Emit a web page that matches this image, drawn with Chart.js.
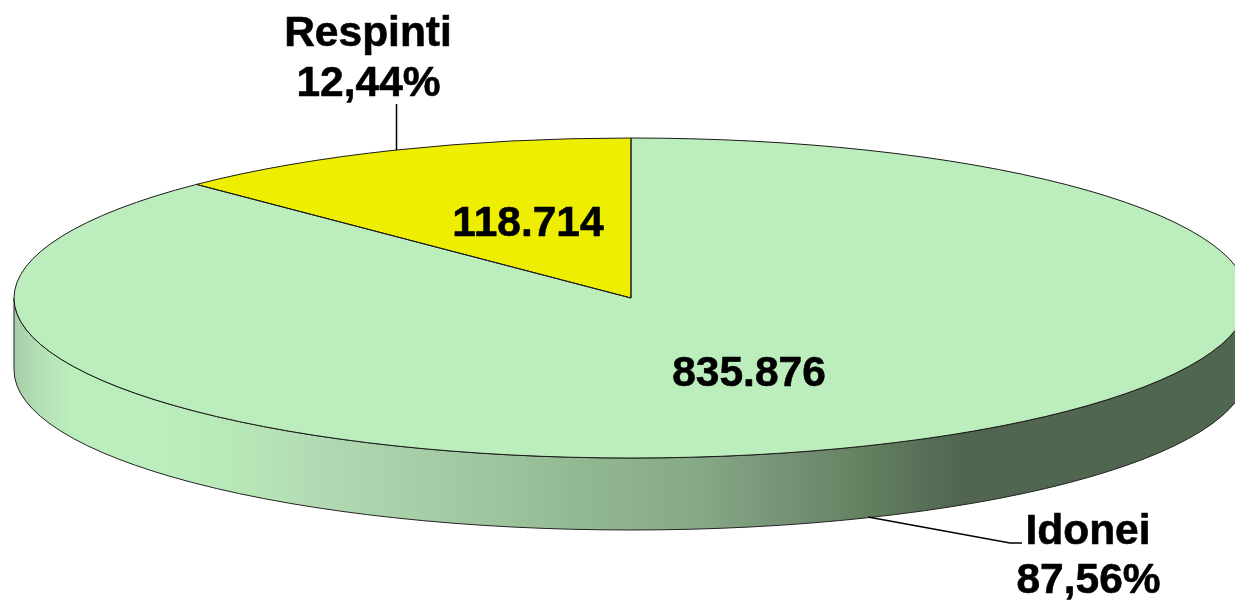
<!DOCTYPE html>
<html>
<head>
<meta charset="utf-8">
<style>html,body{margin:0;padding:0;background:#fff;overflow:hidden}canvas{display:block}</style>
<script src="https://cdn.jsdelivr.net/npm/chart.js@4/dist/chart.umd.js"></script>
</head>
<body>
<canvas id="c" width="1235" height="603"></canvas>
<script>
const categories = ["Respinti", "Idonei"];
const seriesValues = [118714, 835876];
const percentLabels = ["12,44%", "87,56%"];
const valueLabels = ["118.714", "835.876"];
const sliceColors = ["#eeee00", "#bbeebc"];

const CX = 631, CY = 298, RX = 617, RY = 160, DEPTH = 72;
const FONT = "bold 42.5px 'Liberation Sans', Arial, sans-serif";
const wallStops = [[0,"#a8cca8"],[0.02,"#b5dfb5"],[0.045,"#bbeebc"],[0.12,"#bbeebc"],[0.18,"#b8e8b8"],[0.235,"#b4dcb4"],[0.313,"#a9d1a9"],[0.40,"#9cc39c"],[0.46,"#92b892"],[0.56,"#85a885"],[0.63,"#759075"],[0.69,"#64805f"],[0.73,"#5a7259"],[0.766,"#506650"],[1,"#4f664f"]];

const rotationDeg = -360 * seriesValues[0] / (seriesValues[0] + seriesValues[1]);

function project(ctx, arc, dy) {
  const k = arc.outerRadius;
  ctx.translate(CX, CY + (dy || 0));
  ctx.scale(RX / k, RY / k);
  ctx.translate(-arc.x, -arc.y);
}

const pie3d = {
  id: "pie3d",
  beforeDatasetsDraw(chart) {
    const ctx = chart.ctx, arc = chart.getDatasetMeta(0).data[0];
    const k = arc.outerRadius;
    const g = ctx.createLinearGradient(CX - RX, 0, CX + RX, 0);
    wallStops.forEach(s => g.addColorStop(s[0], s[1]));
    // wall: front half of the rim
    ctx.save();
    ctx.save(); project(ctx, arc, 0);
    ctx.beginPath();
    ctx.arc(arc.x, arc.y, k, 0, Math.PI, false);
    ctx.restore();
    ctx.save(); project(ctx, arc, DEPTH);
    ctx.arc(arc.x, arc.y, k, Math.PI, 0, true);
    ctx.restore();
    ctx.closePath();
    ctx.fillStyle = g;
    ctx.fill();
    ctx.strokeStyle = "#222";
    ctx.lineWidth = 1;
    ctx.stroke();
    ctx.restore();
    // squash the round pie drawn by the library
    ctx.save();
    project(ctx, arc, 0);
  },
  afterDatasetsDraw(chart) {
    const ctx = chart.ctx, meta = chart.getDatasetMeta(0);
    ctx.restore();
    // slice outlines with an even line width
    meta.data.forEach(a => {
      ctx.save();
      ctx.save(); project(ctx, a, 0);
      ctx.beginPath();
      ctx.moveTo(a.x, a.y);
      ctx.arc(a.x, a.y, a.outerRadius, a.startAngle, a.endAngle);
      ctx.closePath();
      ctx.restore();
      ctx.strokeStyle = "#1a1a1a";
      ctx.lineWidth = 1;
      ctx.stroke();
      ctx.restore();
    });
    // leader lines
    ctx.save();
    ctx.strokeStyle = "#000";
    ctx.lineWidth = 1.5;
    ctx.beginPath();
    ctx.moveTo(396.5, 104); ctx.lineTo(396.5, 150);
    ctx.moveTo(868, 517); ctx.lineTo(1010, 543); ctx.lineTo(1022, 543);
    ctx.stroke();
    // labels
    ctx.fillStyle = "#000";
    ctx.strokeStyle = "#000";
    ctx.lineWidth = 0.6;
    ctx.lineJoin = "round";
    ctx.font = FONT;
    ctx.textAlign = "center";
    ctx.textBaseline = "alphabetic";
    const put = (t, x, y) => { ctx.fillText(t, x, y); ctx.strokeText(t, x, y); };
    put(categories[0], 368, 46);
    put(percentLabels[0], 368.5, 96);
    put(valueLabels[0], 528, 236);
    put(valueLabels[1], 749, 386);
    put(categories[1], 1088, 544);
    put(percentLabels[1], 1088.5, 593);
    ctx.restore();
  }
};

new Chart(document.getElementById("c"), {
  type: "pie",
  data: {
    labels: categories,
    datasets: [{
      data: seriesValues,
      backgroundColor: sliceColors,
      borderWidth: 0,
      clip: false
    }]
  },
  options: {
    responsive: false,
    animation: false,
    rotation: rotationDeg,
    layout: { padding: 0 },
    plugins: { legend: { display: false }, tooltip: { enabled: false } }
  },
  plugins: [pie3d]
});
</script>
</body>
</html>
